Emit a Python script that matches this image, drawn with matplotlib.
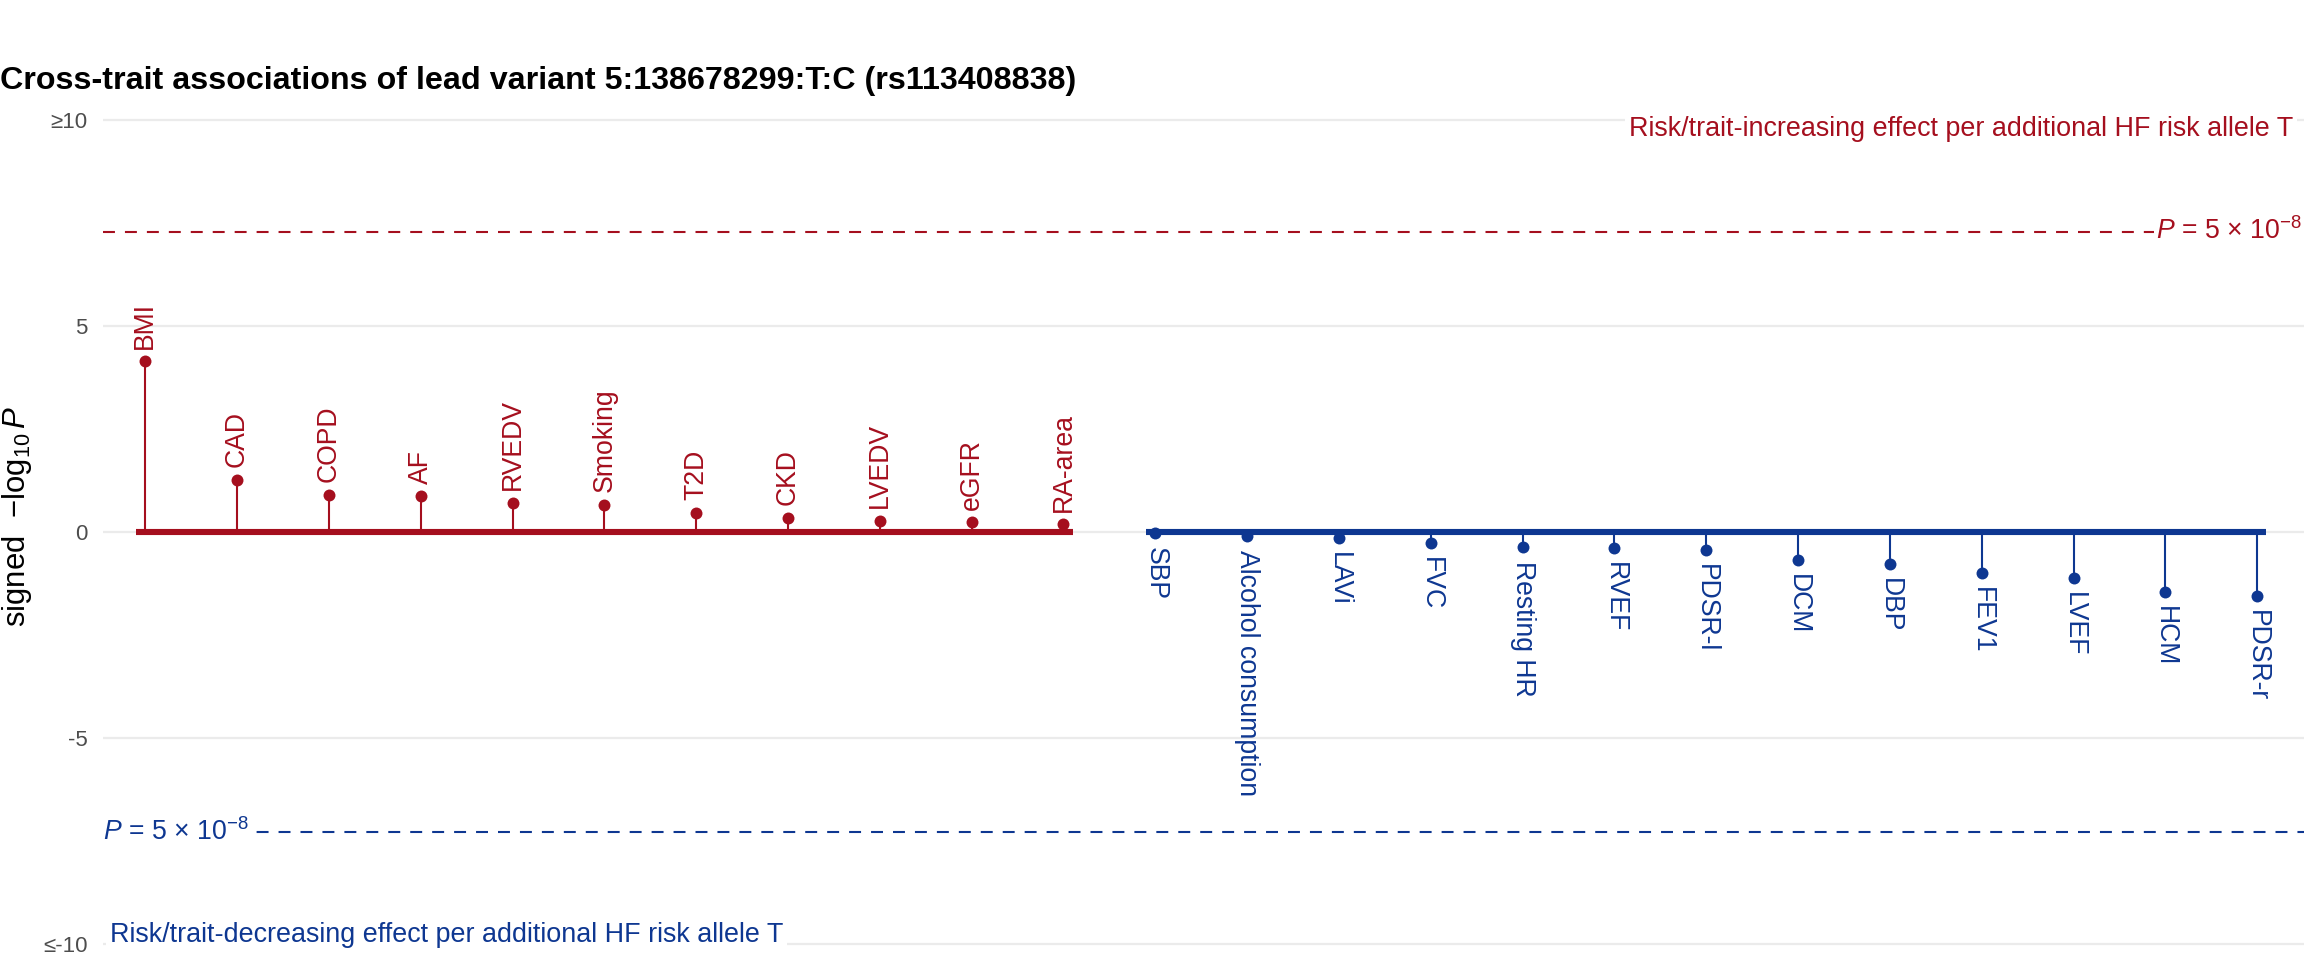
import numpy as np
import matplotlib
matplotlib.use("Agg")
import matplotlib.pyplot as plt

plt.rcParams['font.family'] = ['Liberation Sans', 'DejaVu Sans']
plt.rcParams['mathtext.fontset'] = 'custom'
plt.rcParams['mathtext.rm'] = 'Liberation Sans'
plt.rcParams['mathtext.it'] = 'Liberation Sans:italic'
plt.rcParams['lines.scale_dashes'] = False

# data
up_traits = ["BMI", "CAD", "COPD", "AF", "RVEDV", "Smoking", "T2D", "CKD",
             "LVEDV", "eGFR", "RA-area"]
up_vals = [4.15, 1.27, 0.91, 0.87, 0.71, 0.66, 0.47, 0.35, 0.27, 0.24, 0.19]
down_traits = ["SBP", "Alcohol consumption", "LAVi", "FVC", "Resting HR", "RVEF",
               "PDSR-l", "DCM", "DBP", "FEV1", "LVEF", "HCM", "PDSR-r"]
down_vals = [-0.02, -0.10, -0.14, -0.27, -0.36, -0.38, -0.43, -0.69, -0.78,
             -1.00, -1.11, -1.46, -1.55]
yticks = [-10, -5, 0, 5, 10]
ytick_labels = ["≤-10", "-5", "0", "5", "≥10"]
gw_line = -np.log10(5e-8)

red = "#A50F1E"
blue = "#0E3791"

fig = plt.figure(figsize=(11.52, 4.8), dpi=200)
ax = fig.add_axes([103 / 2304, 0.0, 1 - 103 / 2304, 0.8917])

x_up = np.arange(1, len(up_vals) + 1)
x_down = np.arange(len(up_vals) + 1, len(up_vals) + len(down_vals) + 1)

lab_size = 9.6
for xs, vals, names, col, sign in [(x_up, up_vals, up_traits, red, 1),
                                   (x_down, down_vals, down_traits, blue, -1)]:
    ax.vlines(xs, 0, vals, color=col, lw=0.75, zorder=3)
    ax.hlines(0, xs[0] - 0.1, xs[-1] + 0.1, color=col, lw=2.2, zorder=4)
    ax.plot(xs, vals, "o", color=col, ms=4.3, mec="none", zorder=5)
    for x, v, n in zip(xs, vals, names):
        if sign > 0:
            ax.annotate(n, (x, v), xytext=(0, 4.5), textcoords="offset points",
                        rotation=90, ha="center", va="bottom", color=col, fontsize=lab_size)
        else:
            ax.annotate(n, (x, v), xytext=(0, -5), textcoords="offset points",
                        rotation=270, ha="center", va="top", color=col, fontsize=lab_size)

# significance lines
ax.axhline(gw_line, color=red, lw=0.75, dashes=(4.3, 3.6), zorder=2)
ax.axhline(-gw_line, color=blue, lw=0.75, dashes=(4.3, 3.6), zorder=2)
ptxt = r"$P$ = 5 $\times$ 10$^{-8}$"
ax.text(0.999, gw_line, ptxt, transform=ax.get_yaxis_transform(), ha="right",
        va="center", color=red, fontsize=lab_size,
        bbox=dict(facecolor="white", edgecolor="none", pad=1))
ax.text(0.0, -gw_line, ptxt, transform=ax.get_yaxis_transform(), ha="left",
        va="center", color=blue, fontsize=lab_size,
        bbox=dict(facecolor="white", edgecolor="none", pad=1))

ax.text(0.995, 9.8, "Risk/trait-increasing effect per additional HF risk allele T",
        transform=ax.get_yaxis_transform(), ha="right", va="center", color=red,
        fontsize=9.7, bbox=dict(facecolor="white", edgecolor="none", pad=1.5), zorder=6)
ax.text(0.003, -9.8, "Risk/trait-decreasing effect per additional HF risk allele T",
        transform=ax.get_yaxis_transform(), ha="left", va="center", color=blue,
        fontsize=9.7, bbox=dict(facecolor="white", edgecolor="none", pad=1.5), zorder=6)

ax.set_xlim(0.54, 24.51)
ax.set_ylim(-10.4, 10.4)
ax.set_yticks(yticks)
ax.set_yticklabels(ytick_labels)
ax.set_xticks([])
ax.tick_params(axis="y", length=0, pad=5.5, labelsize=8, labelcolor="#4D4D4D")
ax.grid(axis="y", color="#EBEBEB", lw=0.8, zorder=0)
ax.set_axisbelow(True)
for s in ax.spines.values():
    s.set_visible(False)

fig.text(17 / 2304, 1 - 517 / 960, r"signed  $-\mathrm{log}_{10}\,P$", rotation=90,
         ha="center", va="center", fontsize=11.2)
fig.text(0.0, 1 - 81 / 960, "Cross-trait associations of lead variant 5:138678299:T:C (rs113408838)",
         ha="left", va="center", fontsize=11.6, fontweight="bold")

fig.savefig("out.png", dpi=200, facecolor="white")
